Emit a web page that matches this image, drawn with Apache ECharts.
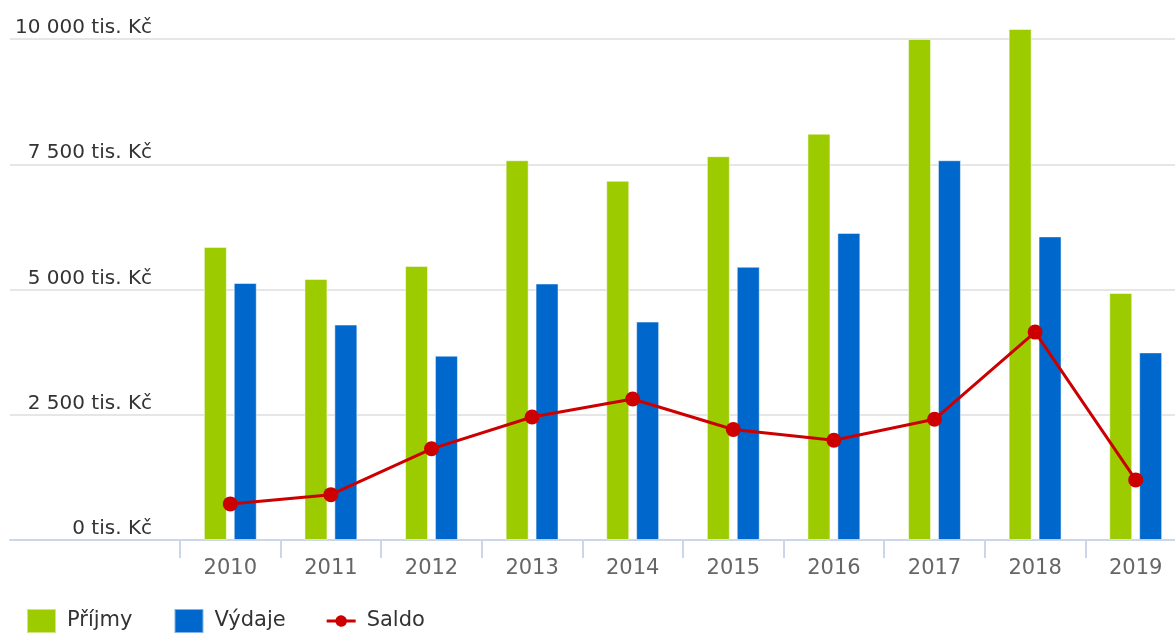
<!DOCTYPE html>
<html>
<head>
    <meta charset="utf-8">
    <title>Příjmy a výdaje</title>
    <script src="https://cdn.jsdelivr.net/npm/echarts@6/dist/echarts.min.js"></script>
    <style>
        html, body { margin: 0; padding: 0; background: #fff; }
        #chart { width: 1175px; height: 633px; }
    </style>
</head>
<body>
    <div id="chart"></div>

    <script type="text/javascript">

    // data (tis. Kč)
    var years = ['2010','2011','2012','2013','2014','2015','2016','2017','2018','2019'];
    var prijmy = [5850, 5210, 5470, 7580, 7170, 7660, 8110, 10000, 10200, 4930];
    var vydaje = [5130, 4300, 3680, 5120, 4360, 5455, 6130, 7580, 6060, 3745];
    var saldo = [720, 905, 1820, 2455, 2815, 2205, 1990, 2410, 4150, 1200];
    var yTicks = [0, 2500, 5000, 7500, 10000];

    var font = 'DejaVu Sans';
    var axisColor = '#ccd6eb';

    // line with a dot, like the original legend marker
    var saldoIcon = 'path://M0,8.5H9.2A6,6 0 0,1 20.8,8.5H30V11.5H20.8A6,6 0 0,1 9.2,11.5H0Z';

    function fmt(v) {
        return String(v).replace(/\B(?=(\d{3})+(?!\d))/g, ' ') + ' tis. Kč';
    }

    var myChart = echarts.init(document.getElementById('chart'));

    myChart.setOption({
        animation: false,
        textStyle: { fontFamily: font },
        legend: {
            left: 26,
            top: 608,
            padding: 0,
            itemWidth: 29,
            itemHeight: 24,
            itemGap: 41,
            textStyle: { fontFamily: font, fontSize: 21, color: '#333', padding: [0, 0, 0, 6] },
            data: [
                { name: 'Příjmy', icon: 'rect' },
                { name: 'Výdaje', icon: 'rect' },
                { name: 'Saldo', icon: saldoIcon }
            ]
        },
        grid: [
            // background grid: horizontal lines run across the whole width
            { left: 10, right: 0, top: 39, bottom: 93, outerBoundsMode: 'none' },
            // the last category runs a little past the right edge
            { left: 180, width: 1006, top: 39, bottom: 93, outerBoundsMode: 'none' }
        ],
        xAxis: [
            {
                gridIndex: 0,
                type: 'value',
                min: 0,
                max: 1,
                axisLine: { show: true, lineStyle: { color: axisColor, width: 2 } },
                axisTick: { show: false },
                axisLabel: { show: false },
                splitLine: { show: false }
            },
            {
                gridIndex: 1,
                type: 'category',
                data: years,
                axisLine: { show: true, lineStyle: { color: axisColor, width: 2 } },
                axisTick: { show: true, length: 18, lineStyle: { color: axisColor, width: 2 } },
                axisLabel: { color: '#666', fontFamily: font, fontSize: 21, margin: 18 }
            }
        ],
        yAxis: [
            {
                gridIndex: 0,
                type: 'value',
                min: yTicks[0],
                max: yTicks[yTicks.length - 1],
                interval: 2500,
                axisLine: { show: false },
                axisTick: { show: false },
                axisLabel: { show: false },
                splitLine: { lineStyle: { color: '#e6e6e6', width: 2 } }
            },
            {
                gridIndex: 1,
                type: 'value',
                min: yTicks[0],
                max: yTicks[yTicks.length - 1],
                interval: 2500,
                axisLine: { show: false },
                axisTick: { show: false },
                splitLine: { show: false },
                axisLabel: {
                    formatter: fmt,
                    color: '#333',
                    fontFamily: font,
                    fontSize: 20,
                    margin: 28,
                    verticalAlign: 'bottom',
                    padding: [0, 0, 1, 0]
                }
            }
        ],
        series: [
            {
                name: 'Příjmy',
                type: 'bar',
                xAxisIndex: 1,
                yAxisIndex: 1,
                barWidth: 23,
                barGap: '30%',
                clip: false,
                itemStyle: { color: '#9ccb00', borderColor: 'rgba(255,255,255,0.5)', borderWidth: 1 },
                data: prijmy
            },
            {
                name: 'Výdaje',
                type: 'bar',
                xAxisIndex: 1,
                yAxisIndex: 1,
                barWidth: 23,
                barGap: '30%',
                clip: false,
                itemStyle: { color: '#0068cc', borderColor: 'rgba(255,255,255,0.5)', borderWidth: 1 },
                data: vydaje
            },
            {
                name: 'Saldo',
                type: 'line',
                xAxisIndex: 1,
                yAxisIndex: 1,
                z: 5,
                symbol: 'circle',
                symbolSize: 15,
                itemStyle: { color: '#cc0000' },
                lineStyle: { color: '#cc0000', width: 3 },
                data: saldo
            }
        ]
    });

    window.onresize = function(){
        myChart.resize();
    };

    </script>
</body>
</html>
